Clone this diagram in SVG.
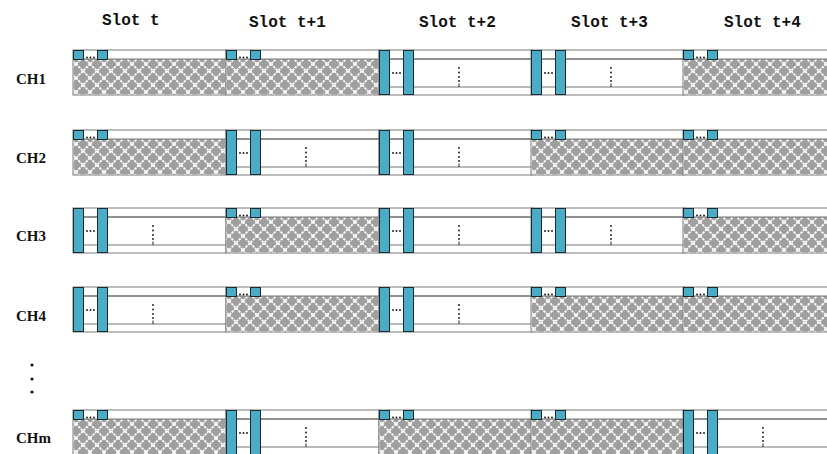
<svg xmlns="http://www.w3.org/2000/svg" xmlns:xlink="http://www.w3.org/1999/xlink" width="827" height="454" viewBox="0 0 827 454">
<style>
.slot{font-family:"Liberation Mono",monospace;font-weight:bold;font-size:16px;fill:#111}
.ch{font-family:"Liberation Serif",serif;font-weight:bold;font-size:15px;fill:#111}
.frame{fill:#fff;stroke:#7a7a7a;stroke-width:1}
.bar{fill:#4bacc6;stroke:#1a2a33;stroke-width:1}
.dk{stroke:#222;stroke-width:1}
.lt{stroke:#777;stroke-width:1.2}
.dot{fill:#111}
</style>
<defs>
<pattern id="hatch" width="14" height="14" patternUnits="userSpaceOnUse" x="73" y="0">
<rect width="14" height="14" fill="#9f9f9f"/>
<path d="M0 0L14 14M14 0L0 14" stroke="#fff" stroke-width="1.8" stroke-dasharray="2.4 1"/>
</pattern>
<g id="idle">
<rect class="frame" x="0" y="0" width="153" height="45"/>
<rect x="0.5" y="9" width="152" height="35.5" fill="url(#hatch)"/>
<line class="lt" x1="0" y1="9" x2="153" y2="9"/>
<rect class="bar" x="0.5" y="0.5" width="10" height="9"/>
<rect class="bar" x="24.5" y="0.5" width="10" height="9"/>
<circle class="dot" cx="14" cy="7.5" r="0.9"/><circle class="dot" cx="17.5" cy="7.5" r="0.9"/><circle class="dot" cx="21" cy="7.5" r="0.9"/>
</g>
<g id="busy">
<rect class="frame" x="0" y="0" width="153" height="45"/>
<line class="dk" x1="0" y1="9" x2="153" y2="9"/>
<line class="lt" x1="0" y1="37" x2="153" y2="37"/>
<rect class="bar" x="0.5" y="0.5" width="10" height="44"/>
<rect class="bar" x="24.5" y="0.5" width="10" height="44"/>
<circle class="dot" cx="14" cy="23" r="0.9"/><circle class="dot" cx="17.5" cy="23" r="0.9"/><circle class="dot" cx="21" cy="23" r="0.9"/>
<circle class="dot" cx="80" cy="18" r="0.9"/><circle class="dot" cx="80" cy="22.5" r="0.9"/><circle class="dot" cx="80" cy="27" r="0.9"/><circle class="dot" cx="80" cy="31" r="0.9"/>
<line class="dk" x1="80" y1="33.5" x2="80" y2="37"/>
</g>
</defs>
<g id="slot-labels">
<text class="slot" x="102" y="25">Slot t</text>
<text class="slot" x="249" y="27">Slot t+1</text>
<text class="slot" x="419" y="27">Slot t+2</text>
<text class="slot" x="571" y="27">Slot t+3</text>
<text class="slot" x="724" y="27">Slot t+4</text>
</g>
<g id="CH1">
<text class="ch" x="16" y="84">CH1</text>
<use xlink:href="#idle" x="73" y="50"/>
<use xlink:href="#idle" x="226" y="50"/>
<use xlink:href="#busy" x="379" y="50"/>
<use xlink:href="#busy" x="531" y="50"/>
<use xlink:href="#idle" x="683" y="50"/>
</g>
<g id="CH2">
<text class="ch" x="16" y="163">CH2</text>
<use xlink:href="#idle" x="73" y="130"/>
<use xlink:href="#busy" x="226" y="130"/>
<use xlink:href="#busy" x="379" y="130"/>
<use xlink:href="#idle" x="531" y="130"/>
<use xlink:href="#idle" x="683" y="130"/>
</g>
<g id="CH3">
<text class="ch" x="16" y="241">CH3</text>
<use xlink:href="#busy" x="73" y="208"/>
<use xlink:href="#idle" x="226" y="208"/>
<use xlink:href="#busy" x="379" y="208"/>
<use xlink:href="#busy" x="531" y="208"/>
<use xlink:href="#idle" x="683" y="208"/>
</g>
<g id="CH4">
<text class="ch" x="16" y="321">CH4</text>
<use xlink:href="#busy" x="73" y="287"/>
<use xlink:href="#idle" x="226" y="287"/>
<use xlink:href="#busy" x="379" y="287"/>
<use xlink:href="#idle" x="531" y="287"/>
<use xlink:href="#idle" x="683" y="287"/>
</g>
<g id="ellipsis">
<circle cx="32" cy="365" r="1.6" fill="#111"/>
<circle cx="32" cy="379" r="1.6" fill="#111"/>
<circle cx="32" cy="392" r="1.6" fill="#111"/>
</g>
<g id="CHm">
<text class="ch" x="16" y="443">CHm</text>
<use xlink:href="#idle" x="73" y="410"/>
<use xlink:href="#busy" x="226" y="410"/>
<use xlink:href="#idle" x="379" y="410"/>
<use xlink:href="#idle" x="531" y="410"/>
<use xlink:href="#busy" x="683" y="410"/>
</g>
</svg>
